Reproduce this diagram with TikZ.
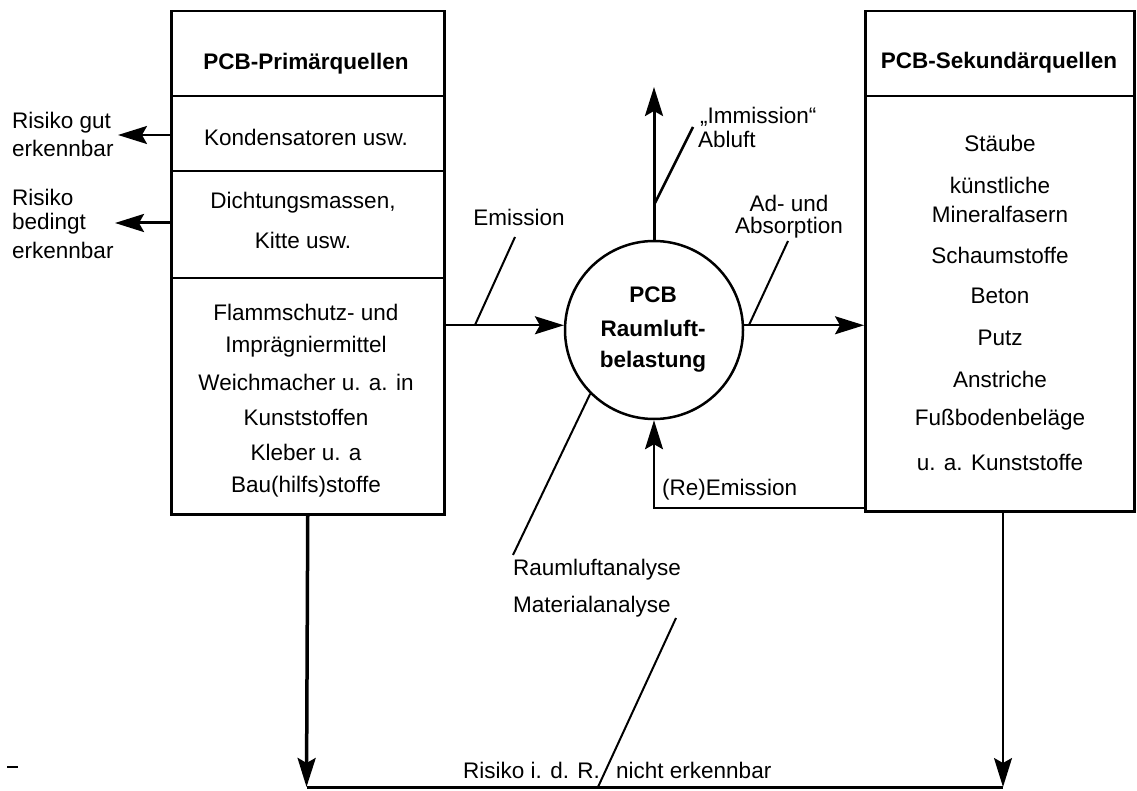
\documentclass[tikz,border=0pt]{standalone}
\usepackage{fontspec}
\setmainfont{Liberation Sans}
\usetikzlibrary{arrows.meta}
\newcommand{\fs}{\fontsize{22.5}{30}\selectfont}
\tikzset{
  box/.style={draw, line width=2.5pt, anchor=north west, inner sep=0pt},
  txt/.style={font=\fs, inner sep=0pt},
  hd/.style={font=\fs\bfseries, inner sep=0pt},
  arr/.style={-{Stealth[length=29pt,width=18pt,inset=5pt]}, line width=2pt},
  lead/.style={line width=2pt},
}
\begin{document}
\begin{tikzpicture}[x=1pt,y=-1pt]
\useasboundingbox (0,0) rectangle (1137,791);

% ---------------- left box ----------------
\node[box, minimum width=273pt, minimum height=85pt]  (lb1) at (170,10) {};
\node[box, minimum width=273pt, minimum height=75pt]  (lb2) at (170,95) {};
\node[box, minimum width=273pt, minimum height=107pt] (lb3) at (170,170) {};
\node[box, minimum width=273pt, minimum height=236pt] (lb4) at (170,277) {};

\node[hd]  (l1) at (306,64)  {PCB-Primärquellen};
\node[txt] (l2) at (306,137) {Kondensatoren usw.};
\node[txt] (l3) at (303,203) {Dichtungsmassen,};
\node[txt] (l4) at (303,240) {Kitte usw.};
\node[txt] (l5) at (306,312) {Flammschutz- und};
\node[txt] (l6) at (306,347) {Imprägniermittel};
\node[txt] (l7) at (306,382) {Weichmacher u. a. in};
\node[txt] (l8) at (306,417) {Kunststoffen};
\node[txt] (l9) at (306,452) {Kleber u. a};
\node[txt] (l10) at (306,487) {Bau(hilfs)stoffe};

% ---------------- right box ----------------
\node[box, minimum width=269pt, minimum height=85pt]  (rb1) at (864,10) {};
\node[box, minimum width=269pt, minimum height=415pt] (rb2) at (864,95) {};

\node[hd]  (r1) at (999,63)  {PCB-Sekundärquellen};
\node[txt] (r2) at (1000,143) {Stäube};
\node[txt] (r3) at (1000,185) {künstliche};
\node[txt] (r4) at (1000,214) {Mineralfasern};
\node[txt] (r5) at (1000,255) {Schaumstoffe};
\node[txt] (r6) at (1000,296) {Beton};
\node[txt] (r7) at (1000,338) {Putz};
\node[txt] (r8) at (1000,379) {Anstriche};
\node[txt] (r9) at (1000,420) {Fußbodenbeläge};
\node[txt] (r10) at (1000,462) {u. a. Kunststoffe};

% ---------------- circle ----------------
\node[draw, circle, line width=2.5pt, minimum size=178pt, inner sep=0pt] (c) at (654,330) {};
\node[hd] (c1) at (653,295) {PCB};
\node[hd] (c2) at (653,328) {Raumluft-};
\node[hd] (c3) at (653,362) {belastung};

% ---------------- side risk labels ----------------
\node[txt, anchor=west] (s1) at (12,123) {Risiko gut};
\node[txt, anchor=west] (s2) at (12,148) {erkennbar};
\node[txt, anchor=west] (s3) at (12,197) {Risiko};
\node[txt, anchor=west] (s4) at (12,224) {bedingt};
\node[txt, anchor=west] (s5) at (12,250) {erkennbar};
\coordinate (a1) at (118,135);
\coordinate (a2) at (115,223);
\draw[arr] (lb2.west |- a1) -- (a1);
\draw[arr, line width=3pt] (lb3.west |- a2) -- (a2);

% ---------------- arrows around circle ----------------
\draw[arr] (lb4.east |- c.177) -- (c.177);
\draw[arr] (c.3) -- (rb2.west |- c.3);
\coordinate (up) at (654,87);
\draw[arr, line width=3pt] (c.north) -- (up);
\coordinate (reb) at (654,508);
\draw[arr] (rb2.west |- reb) -- (reb) -- (c.south);

% ---------------- labels and leaders ----------------
\node[txt] (em) at (519,217) {Emission};
\coordinate (em1) at (515,237);
\coordinate (em2) at (475,325);
\draw[lead] (em1) -- (em2);

\node[txt] (ad1) at (789,203) {Ad- und};
\node[txt] (ad2) at (789,228) {Absorption};
\coordinate (ad3) at (788,241);
\coordinate (ad4) at (749,325);
\draw[lead] (ad3) -- (ad4);

\node[txt, anchor=west] (im1) at (700,117) {„Immission“};
\node[txt, anchor=west] (im2) at (698,139) {Abluft};
\coordinate (im3) at (693,127);
\coordinate (im4) at (655,203);
\draw[lead, line width=2.5pt] (im3) -- (im4);

\node[txt, anchor=west] (re) at (662,490) {(Re)Emission};

\node[txt, anchor=west] (ra1) at (513,570) {Raumluftanalyse};
\node[txt, anchor=west] (ra2) at (513,607) {Materialanalyse};
\coordinate (ra3) at (513,555);
\draw[lead] (c.225) -- (ra3);

% ---------------- bottom ----------------
\coordinate (bl) at (306.5,787);
\coordinate (br) at (1003,787);
\draw[arr, line width=3.5pt] (lb4.south) -- (bl);
\draw[arr, line width=1.8pt] (rb2.south -| br) -- (br);
\draw[line width=3pt] (bl) -- (br);

\node[txt, anchor=west] (b1) at (463,770) {Risiko i. d. R.};
\node[txt, anchor=west] (b2) at (616,770) {nicht erkennbar};
\coordinate (ma1) at (676,618);
\coordinate (ma2) at (598,787);
\draw[lead] (ma1) -- (ma2);

\draw[line width=2pt] (7,767) -- (18,767);
\end{tikzpicture}
\end{document}
